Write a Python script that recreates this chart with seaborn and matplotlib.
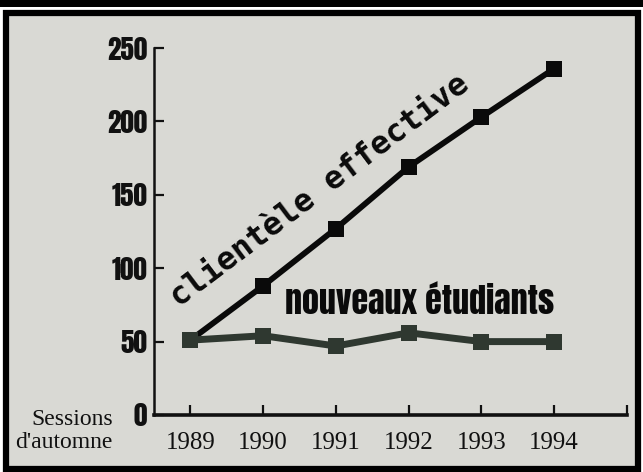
import pandas as pd
import matplotlib
matplotlib.use("Agg")
import matplotlib.pyplot as plt
from matplotlib import font_manager
from matplotlib.patches import Rectangle
import seaborn as sns

# data
years = [1989, 1990, 1991, 1992, 1993, 1994]
clientele = [51, 88, 127, 169, 203, 236]
nouveaux = [51, 54, 47, 56, 50, 50]
y_ticks = [0, 50, 100, 150, 200, 250]
x_ticks = [1989, 1990, 1991, 1992, 1993, 1994, 1995]
x_labels = ["1989", "1990", "1991", "1992", "1993", "1994", ""]

df = pd.DataFrame({
    "annee": years * 2,
    "nombre": clientele + nouveaux,
    "serie": ["clientèle effective"] * 6 + ["nouveaux étudiants"] * 6,
})


def pick(names):
    for n in names:
        try:
            font_manager.findfont(font_manager.FontProperties(family=n), fallback_to_default=False)
            return n
        except Exception:
            pass
    return "DejaVu Sans"


heavy = pick(["Anton", "Oswald", "Roboto Condensed", "Archivo Narrow", "Liberation Sans"])
serif = pick(["Liberation Serif", "DejaVu Serif"])

sns.set_theme(style="ticks")
plt.rcParams["font.family"] = [heavy, "DejaVu Sans"]

bg = "#d9d9d4"
fig = plt.figure(figsize=(6.43, 4.72), dpi=100, facecolor="white")

# newspaper frame
fig.patches.append(Rectangle((0, 1 - 7 / 472), 1, 7 / 472, transform=fig.transFigure,
                             facecolor="black", edgecolor="none", zorder=-2))
fig.patches.append(Rectangle((6 / 643, 3 / 472), 632 / 643, 456 / 472, transform=fig.transFigure,
                             facecolor=bg, edgecolor="black", linewidth=4.5, zorder=-2))

ax = fig.add_axes([154 / 643, 1 - 415 / 472, (627 - 154) / 643, (415 - 48) / 472])
ax.set_zorder(2)
ax.set_facecolor("none")

sns.lineplot(data=df, x="annee", y="nombre", hue="serie", style="serie",
             palette={"clientèle effective": "#0a0a0a", "nouveaux étudiants": "#2f3830"},
             markers={"clientèle effective": "s", "nouveaux étudiants": "s"},
             dashes=False, markersize=11, markeredgewidth=0, legend=False, ax=ax)
for line, lw in zip(ax.lines, [4.2, 5.0]):
    line.set_linewidth(lw)

ax.set_xlim(1988.5, 1995)
ax.set_ylim(0, 250)
ax.set_xticks(x_ticks)
ax.set_xticklabels(x_labels, family=[serif, "DejaVu Serif"], fontsize=18, color="#111111")
ax.set_yticks(y_ticks)
ax.set_yticklabels([str(v) for v in y_ticks], fontsize=19.5, color="#111111")
ax.tick_params(axis="both", direction="in", length=7, width=1.6, color="#111111")
ax.tick_params(axis="x", pad=12)
ax.tick_params(axis="y", pad=5)
ax.set_xlabel("")
ax.set_ylabel("")
sns.despine(ax=ax)
ax.spines["left"].set_linewidth(1.8)
ax.spines["bottom"].set_linewidth(2.6)
ax.spines["left"].set_color("#111111")
ax.spines["bottom"].set_color("#111111")

# series labels written along the lines
ax.text(1988.84, 73, "clientèle effective", rotation=37, rotation_mode="anchor",
        ha="left", va="baseline", family=["DejaVu Sans Mono"], fontweight="bold",
        fontsize=23, color="#0a0a0a")
ax.text(1990.3, 69, "nouveaux étudiants", ha="left", va="baseline",
        fontsize=24.5, color="#0a0a0a")

fig.text(113 / 643, 1 - 431 / 472, "Sessions\nd'automne", ha="right", va="center",
         family=[serif, "DejaVu Serif"], fontsize=17, color="#111111", linespacing=1.12)

fig.savefig("out.png", dpi=100, facecolor="white")
